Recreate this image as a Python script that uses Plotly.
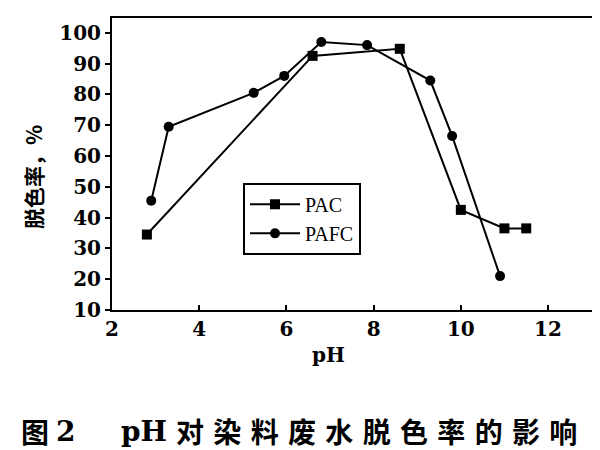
import plotly.graph_objects as go

pac_x = [2.8, 6.6, 8.6, 10.0, 11.0, 11.5]
pac_y = [34.5, 92.5, 94.8, 42.5, 36.5, 36.5]
pafc_x = [2.9, 3.3, 5.25, 5.95, 6.8, 7.85, 9.3, 9.8, 10.9]
pafc_y = [45.5, 69.5, 80.5, 86.0, 97.0, 96.0, 84.5, 66.5, 21.0]
x_ticks = [2, 4, 6, 8, 10, 12]
y_ticks = [10, 20, 30, 40, 50, 60, 70, 80, 90, 100]

fig = go.Figure()
fig.add_trace(go.Scatter(x=pac_x, y=pac_y, name="PAC", mode="lines+markers",
                         line=dict(color="black", width=2),
                         marker=dict(symbol="square", size=10, color="black")))
fig.add_trace(go.Scatter(x=pafc_x, y=pafc_y, name="PAFC", mode="lines+markers",
                         line=dict(color="black", width=2),
                         marker=dict(symbol="circle", size=10, color="black")))

L, T, W, H = 104, 8, 484, 294
def px(x):
    return (x - L) / W
def py(y):
    return (T + H - y) / H

tickfont = dict(family="DejaVu Serif", size=20, color="black", weight="bold")
cjk = "Noto Sans CJK SC"
sp = "\u2004"
caption_cn = sp.join("对染料废水脱色率的影响")

def ann(text, x, y, font, xanchor="left", **kw):
    return dict(text=text, x=px(x), y=py(y), xref="paper", yref="paper",
                xanchor=xanchor, yanchor="middle", showarrow=False, font=font, **kw)

capfont_cn = dict(family=cjk, size=28, color="black", weight="bold")
capfont_lat = dict(family="DejaVu Serif", size=28, color="black", weight="bold")

fig.update_layout(
    width=600, height=450,
    margin=dict(l=L, r=600 - L - W, t=T, b=450 - T - H),
    paper_bgcolor="white", plot_bgcolor="white",
    showlegend=True,
    legend=dict(x=px(235), y=py(174), xanchor="left", yanchor="top",
                bordercolor="black", borderwidth=2, bgcolor="white",
                font=dict(family="Liberation Serif", size=20, color="black"),
                tracegroupgap=0, itemwidth=50),
    xaxis=dict(range=[2, 13.1], tickvals=x_ticks, ticks="inside", ticklen=5,
               tickcolor="black", tickwidth=2, showgrid=False, zeroline=False,
               showline=True, linecolor="black", linewidth=2, mirror=True,
               tickfont=tickfont),
    yaxis=dict(range=[10, 104.8], tickvals=y_ticks, ticks="outside", ticklen=5,
               tickcolor="black", tickwidth=2, showgrid=False, zeroline=False,
               showline=True, linecolor="black", linewidth=2, mirror=True,
               tickfont=tickfont),
    annotations=[
        ann("pH", 320, 347, tickfont, xanchor="center"),
        ann("脱色率，%", 25, 168, dict(family=cjk, size=21, color="black", weight="bold"),
            xanchor="center", textangle=-90),
        ann("图", 11, 424, capfont_cn),
        ann("2", 46, 424, capfont_lat),
        ann("pH", 111, 424, capfont_lat),
        ann(caption_cn, 166, 424, capfont_cn),
    ],
)

fig.write_html("out.html")
